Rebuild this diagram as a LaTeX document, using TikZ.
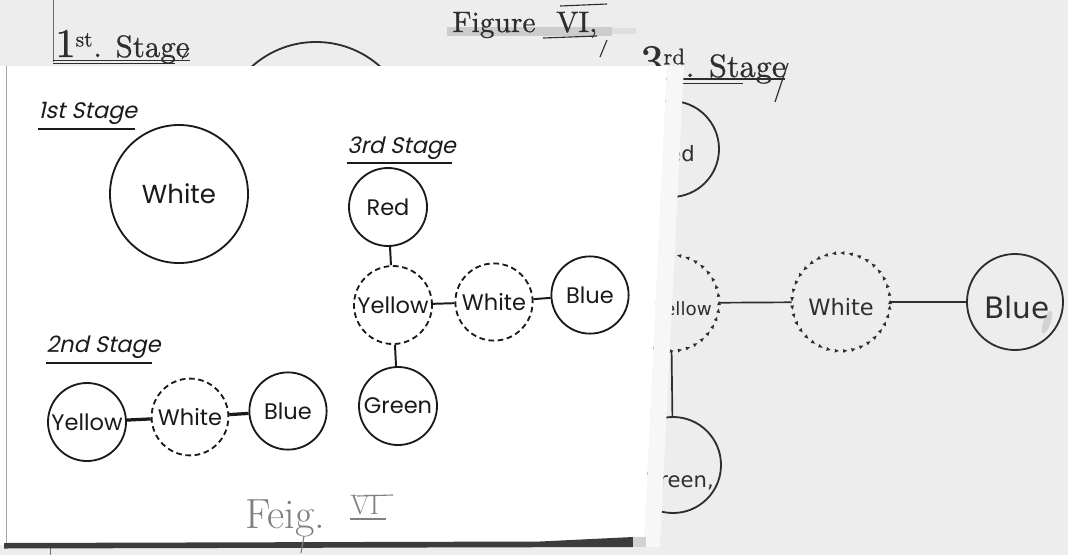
\documentclass[tikz,border=0pt]{standalone}
\usepackage{fontspec}
\newfontfamily\letterfont{Poppins}
\newfontfamily\stagefont[FakeSlant=0.22]{Poppins}
\newfontfamily\titlefont[FakeBold=0.7]{lmroman10-regular.otf}
\newfontfamily\handfont{DejaVu Sans}
\usetikzlibrary{decorations.markings}

\definecolor{paper}{HTML}{EDEDED}
\definecolor{sheen}{HTML}{F7F7F7}
\definecolor{ink}{HTML}{1A1A1A}
\definecolor{pencil}{HTML}{2E2E2E}
\definecolor{graphite}{HTML}{808080}
\definecolor{band}{HTML}{3C3C3C}

\begin{document}
\begin{tikzpicture}[x=0.025cm, y=-0.025cm,
  ring/.style={circle, draw=ink, line width=1.3pt, inner sep=0pt, minimum size=#1,
    font=\letterfont\fontsize{16}{16}\selectfont, text=ink},
  dashring/.style={ring=#1, dash pattern=on 4pt off 2.6pt},
  link/.style={draw=ink, line width=1.4pt},
  thicklink/.style={draw=ink, line width=2.3pt},
  stagelabel/.style={anchor=base west, inner sep=0pt,
    font=\stagefont\fontsize{16}{16}\selectfont, text=ink},
  rule/.style={draw=ink, line width=1.3pt},
  oldring/.style={circle, draw=pencil, line width=1.3pt, inner sep=0pt, minimum size=#1},
  oldspot/.style={circle, inner sep=0pt, minimum size=#1},
  oldlink/.style={draw=pencil, line width=1.2pt},
  oldtitle/.style={inner sep=0pt, text=pencil, font=\titlefont\fontsize{#1}{#1}\selectfont},
  oldtext/.style={inner sep=0pt, text=pencil, font=\handfont\fontsize{#1}{#1}\selectfont},
  tridots/.style={decoration={markings,
      mark=between positions 0 and 1 step 0.21cm with
      {\fill[pencil] (-2.1,-1.9) -- (2.1,0) -- (-2.1,1.9) -- cycle;}}, decorate},
]
\useasboundingbox (0,0) rectangle (1068,555);
\fill[paper] (0,0) rectangle (1068,555);

% ---------- the handwritten sheet underneath ----------
\draw[pencil!70, line width=0.6pt] (53,0) -- (53,62);
\draw[pencil!70, line width=0.6pt] (50,548) -- (50,555);

\node[oldtitle=22, anchor=base west] (h1) at (55,57)
  {{\fontsize{29}{29}\selectfont 1}\textsuperscript{st}. Stage};
\draw[pencil, line width=0.8pt] (53,60.5) -- (190,60.5);
\draw[pencil, line width=0.8pt] (53,63.5) -- (175,63.5);
\draw[pencil, line width=0.8pt] (182,59) -- (189,48);
\node[oldring=4.8cm] (oW1) at (316,138) {};

% title with its smudge
\fill[gray!60, opacity=.55] (447,27) rectangle (612,36);
\fill[gray!40, opacity=.4] (612,28) rectangle (636,34);
\node[oldtitle=21, anchor=base west] (fig) at (452,32) {Figure};
\node[oldtitle=21, anchor=base west] (fignum) at (556,32) {VI,};
\draw[pencil, line width=0.8pt] (560,6) -- (607,4);
\draw[pencil, line width=0.8pt] (543,38) -- (597,36);
\draw[pencil, line width=0.8pt] (607,40) -- (600,57);

\node[oldtitle=23, anchor=base west] (h3) at (640,77)
  {{\fontsize{33}{33}\selectfont 3}\textsuperscript{rd}. Stage};
\draw[pencil, line width=0.8pt] (637,79) -- (785,79);
\draw[pencil, line width=0.8pt] (668,83.5) -- (743,83.5);
\draw[pencil, line width=0.8pt] (788,63) -- (775,102);

\node[oldring=2.4cm] (oR) at (671,149) {};
\node[oldspot=2.4cm] (oY) at (671,303) {};
\node[oldspot=2.45cm] (oW) at (841,302) {};
\node[oldring=2.4cm] (oB) at (1015,302) {};
\node[oldring=2.4cm] (oG) at (673,465) {};
\path[tridots] (oY.center) circle[radius=1.2cm];
\path[tridots] (oW.center) circle[radius=1.225cm];

\draw[oldlink] (oR) -- (oY);
\draw[oldlink] (oY) -- (oW);
\draw[pencil, line width=2pt] (oW) -- (oB);
\draw[oldlink] (oY) -- (oG);

\node[oldtext=15, anchor=base east] (tR) at (695,161) {Red};
\node[oldtext=13, anchor=base east] (tY) at (712,315) {Yellow};
\node[oldtext=16, anchor=base] (tW) at (841,315) {White};
\node[oldtext=21, anchor=base] (tB) at (1017,318) {Blue};
\node[oldtext=15, anchor=base east] (tG) at (714,487) {Green,};
\fill[gray!60, opacity=.45, rotate around={-20:(1047,322)}] (1047,322) ellipse [x radius=0.09cm, y radius=0.3cm];

% ---------- the printed card on top ----------
\fill[sheen] (667,66) -- (684,66) -- (660,547) -- (644,547) -- cycle;
\fill[white] (0,66) -- (667,66) -- (644,545) -- (0,545) -- cycle;
\draw[gray!70, line width=0.5pt] (6,66) -- (6,544);
\fill[band] (4,543) -- (540,541.5) -- (633,537) -- (633,547) -- (4,548.5) -- cycle;
\fill[gray!35] (633,537) -- (646,537) -- (646,547) -- (633,547) -- cycle;

% 1st stage
\node[stagelabel] (s1) at (38,118) {1st Stage};
\draw[rule] (38,129) -- (135,129);
\node[ring=3.45cm, font=\letterfont\fontsize{18.5}{18.5}\selectfont] (w1) at (179,194) {White};

% 2nd stage
\node[stagelabel] (s2) at (46,352) {2nd Stage};
\draw[rule] (46,363) -- (152,363);
\node[ring=1.95cm] (y2) at (87,422) {Yellow};
\node[dashring=1.92cm] (w2) at (190,417) {White};
\node[ring=1.93cm] (b2) at (288,411) {Blue};
\draw[thicklink] (y2) -- (w2);
\draw[thicklink] (w2) -- (b2);

% 3rd stage
\node[stagelabel] (s3) at (347,153) {3rd Stage};
\draw[rule] (347,163) -- (452,163);
\node[ring=1.95cm] (r3) at (388,207) {Red};
\node[dashring=1.95cm] (y3) at (393,305) {Yellow};
\node[dashring=1.93cm] (w3) at (494,302) {White};
\node[ring=1.93cm] (b3) at (590,295) {Blue};
\node[ring=1.95cm] (g3) at (398,406) {Green};
\draw[link] (r3) -- (y3);
\draw[link] (y3) -- (w3);
\draw[link] (w3) -- (b3);
\draw[link] (y3) -- (g3);

% pencilled caption
\node[inner sep=0pt, anchor=base west, text=graphite, font=\fontsize{30}{30}\selectfont] (cap) at (245,528) {Feig.};
\node[inner sep=0pt, anchor=base west, text=graphite, font=\fontsize{20}{20}\selectfont] (capnum) at (350,514) {VI};
\draw[graphite, line width=0.8pt] (357,496) -- (393,495);
\draw[graphite, line width=0.8pt] (350,519) -- (386,519);
\draw[graphite, line width=0.8pt] (304,536) -- (301,553);
\end{tikzpicture}
\end{document}
